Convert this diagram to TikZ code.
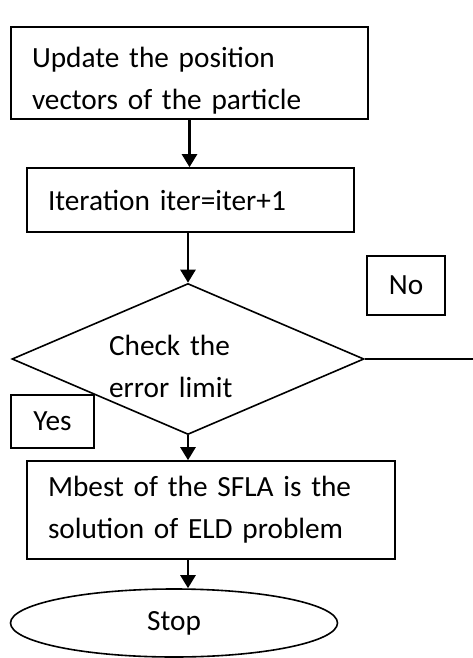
\documentclass[tikz,border=0pt]{standalone}
\usepackage{fontspec}
\setmainfont{Carlito}
\usetikzlibrary{shapes.geometric, arrows.meta, positioning}

\begin{document}
\begin{tikzpicture}[x=1pt, y=-1pt,
        every node/.style={font=\fontsize{29.3}{42}\selectfont},
        box/.style={draw, line width=1.6pt, inner xsep=21pt, inner ysep=0pt, align=left},
        tag/.style={draw, line width=1.6pt},
        arr/.style={-{Triangle[length=13pt, width=15pt]}, line width=2.5pt}]
        \useasboundingbox (0,0) rectangle (473,658);
        \node[box, minimum width=357pt, minimum height=92pt, text width=315pt] (U) at (189.5,73) {\rule{0pt}{29pt}Update the position\\vectors of the particle\vspace*{-7pt}};
        \node[box, minimum width=327pt, minimum height=64pt, text width=285pt] (I) at (190.5,200) {Iteration iter=iter+1};
        \node[draw, diamond, line width=1.6pt, aspect=2.33, inner sep=0pt, minimum width=352pt, minimum height=151pt, text width=158pt, align=left] (C) at (188,359) {\rule{0pt}{29pt}Check the\\error limit\vspace*{-7pt}};
        \node[tag, minimum width=78pt, minimum height=59pt] (N) at (406,285.5) {No};
        \node[tag, minimum width=83pt, minimum height=53pt] (Y) at (52.5,421.5) {Yes};
        \node[box, minimum width=368pt, minimum height=98pt, text width=326pt] (M) at (211,510) {Mbest of the SFLA is the\\solution of ELD problem};
        \node[draw, ellipse, line width=1.6pt, inner sep=0pt, minimum width=327pt, minimum height=68pt] (S) at (174,623) {Stop};
        \coordinate (R) at (473,359);
        \draw[arr] (U.south) -- (U.south |- I.north);
        \draw[arr] (C.north |- I.south) -- (C.north);
        \draw[line width=1.6pt] (C.east) -- (R);
        \draw[arr] (C.south) -- (C.south |- M.north);
        \draw[arr] (C.south |- M.south) -- (C.south |- S.north);
    \end{tikzpicture}
\end{document}
